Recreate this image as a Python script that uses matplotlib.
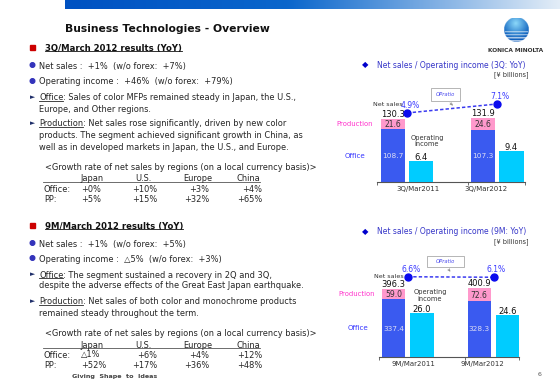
import numpy as np
import matplotlib
matplotlib.use('Agg')
import matplotlib.pyplot as plt
from matplotlib.patches import Rectangle, Ellipse, FancyArrowPatch
from matplotlib.lines import Line2D

# ---------------- data ----------------
periods_3q = ['3Q/Mar2011', '3Q/Mar2012']
office_3q = [108.7, 107.3]
production_3q = [21.6, 24.6]
netsales_3q = [130.3, 131.9]
opinc_3q = [6.4, 9.4]
opratio_3q = [4.9, 7.1]

periods_9m = ['9M/Mar2011', '9M/Mar2012']
office_9m = [337.4, 328.3]
production_9m = [59.0, 72.6]
netsales_9m = [396.3, 400.9]
opinc_9m = [26.0, 24.6]
opratio_9m = [6.6, 6.1]

regions = ['Japan', 'U.S.', 'Europe', 'China']
growth_3q_office = ['+0%', '+10%', '+3%', '+4%']
growth_3q_pp = ['+5%', '+15%', '+32%', '+65%']
growth_9m_office = ['\u25b31%', '+6%', '+4%', '+12%']
growth_9m_pp = ['+52%', '+17%', '+36%', '+48%']

# ---------------- style ----------------
W, H = 560, 388
C_OFFICE = '#3a5af0'
C_PROD = '#ff99cc'
C_OPINC = '#00ccff'
C_TEXT = '#262626'
C_BLUE_T = '#3535c8'

fig = plt.figure(figsize=(W / 100, H / 100), dpi=100)
R = fig.canvas.get_renderer()


def fx(x):
    return x / W


def fy(y):
    return 1 - y / H


def text(x, y, s, size=6, ha='left', va='center_baseline', width=None, **kw):
    t = fig.text(fx(x), fy(y), s, fontsize=size, ha=ha, va=va, **kw)
    if width is not None:
        bb = t.get_window_extent(renderer=R)
        t.set_fontsize(size * width / bb.width)
    return t


def twidth(t):
    return t.get_window_extent(renderer=R).width


def hline(x0, x1, y, color=C_TEXT, lw=0.6):
    fig.add_artist(Line2D([fx(x0), fx(x1)], [fy(y), fy(y)], color=color, lw=lw,
                          transform=fig.transFigure))


def underline_text(t, x, y, size):
    w = twidth(t)
    em = size / 72 * 100
    hline(x, x + w, y + 0.5 * em, color=t.get_color(), lw=0.6)
    return w


# ---------------- header ----------------
hax = fig.add_axes([fx(65), fy(9), (W - 65) / W, 9 / H])
tt = np.linspace(0, 1, 400)
c0 = np.array([0.0, 0.32, 0.76])
c1 = np.array([0.04, 0.40, 0.80])
c2 = np.array([0.89, 0.93, 0.97])
grad = np.where(tt[:, None] < 0.45,
                c0 + (c1 - c0) * (tt[:, None] / 0.45),
                c1 + (c2 - c1) * ((tt[:, None] - 0.45) / 0.55))
hax.imshow(grad[None, :, :], aspect='auto', extent=[0, 1, 0, 1])
hax.axis('off')

text(65, 28, 'Business Technologies - Overview', size=10, width=205,
     weight='bold', color='#111111')

# logo
lax = fig.add_axes([fx(503.5), fy(42.5), 25 / W, 25 / H])
n = 100
yy, xx = np.mgrid[-1:1:n * 1j, -1:1:n * 1j]
rr = np.hypot(xx, yy)
light = np.array([0.55, 0.85, 0.98])
dark = np.array([0.0, 0.33, 0.72])
tg = np.clip(np.hypot(xx + 0.05, yy + 0.5) / 1.35, 0, 1)
col = light * (1 - tg)[..., None] + dark * tg[..., None]
stripes = (yy > 0.12) & (np.sin((yy - 0.12) * 26) > 0.55 - 0.6 * yy) & (np.abs(xx) < 0.95)
col[stripes] = col[stripes] * 0.3 + 0.7
img = np.ones((n, n, 4))
img[..., :3] = col
img[..., 3] = (rr <= 1).astype(float)
lax.imshow(img, extent=[-1, 1, -1, 1])
lax.axis('off')
text(516, 49.5, 'KONICA MINOLTA', size=4, ha='center', width=55,
     weight='bold', color='#333333')

# ---------------- left text ----------------
BODY_REF = 'Office: Sales of color MFPs remained steady in Japan, the U.S.,'
tmp = text(0, 0, BODY_REF, size=6)
BODY = 6 * 259 / twidth(tmp)
tmp.remove()


def red_square(y):
    fig.add_artist(Rectangle((fx(30), fy(y + 2.5)), 5 / W, 5 / H, color='#cc0000',
                             transform=fig.transFigure))


def dot(y):
    fig.add_artist(Ellipse((fx(32.5), fy(y)), 4.6 / W, 4.6 / H, color='#3333bb',
                           transform=fig.transFigure))


def heading(y, s):
    red_square(y)
    t = text(45, y, s, size=7, width=137, weight='bold', color='#111111')
    underline_text(t, 45, y, t.get_fontsize())


def arrow_line(y, word, rest):
    text(32.5, y, '\u25ba', size=BODY * 0.8, ha='center', color='#1f2f6a')
    t = text(39, y, word, size=BODY, color=C_TEXT)
    w = underline_text(t, 39, y, BODY)
    text(39 + w, y, rest, size=BODY, color=C_TEXT)


def table(yh, yo, yp, off_vals, pp_vals):
    centers = [92, 143, 198, 248]
    for c, r in zip(centers, regions):
        text(c, yh, r, size=BODY, ha='center', color=C_TEXT)
    hline(43, 260, yh + 4, color='#555555', lw=0.6)
    text(44, yo, 'Office:', size=BODY, color=C_TEXT)
    text(44, yp, 'PP:', size=BODY, color=C_TEXT)
    rights = [None, 157, 209.5, 262]
    for row_y, vals in ((yo, off_vals), (yp, pp_vals)):
        for j, v in enumerate(vals):
            if j == 0:
                text(81, row_y, v, size=BODY, ha='left', color=C_TEXT)
            else:
                text(rights[j], row_y, v, size=BODY, ha='right', color=C_TEXT)


# section 1
heading(47, '3Q/March 2012 results (YoY)')
dot(65)
text(39, 65, 'Net sales :  +1%  (w/o forex:  +7%)', size=BODY, color=C_TEXT)
dot(81)
text(39, 81, 'Operating income :  +46%  (w/o forex:  +79%)', size=BODY, color=C_TEXT)
arrow_line(97, 'Office', ': Sales of color MFPs remained steady in Japan, the U.S.,')
text(39, 108, 'Europe, and Other regions.', size=BODY, color=C_TEXT)
arrow_line(123, 'Production', ': Net sales rose significantly, driven by new color')
text(39, 135, 'products. The segment achieved significant growth in China, as',
     size=BODY, color=C_TEXT)
text(39, 146, 'well as in developed markets in Japan, the U.S., and Europe.',
     size=BODY, color=C_TEXT)
text(45, 166, '<Growth rate of net sales by regions (on a local currency basis)>',
     size=BODY, color=C_TEXT)
table(178, 188, 199, growth_3q_office, growth_3q_pp)

# section 2
heading(225, '9M/March 2012 results (YoY)')
dot(243)
text(39, 243, 'Net sales :  +1%  (w/o forex:  +5%)', size=BODY, color=C_TEXT)
dot(258)
text(39, 258, 'Operating income :  \u25b35%  (w/o forex:  +3%)', size=BODY, color=C_TEXT)
arrow_line(274, 'Office', ': The segment sustained a recovery in 2Q and 3Q,')
text(39, 285, 'despite the adverse effects of the Great East Japan earthquake.',
     size=BODY, color=C_TEXT)
arrow_line(301, 'Production', ': Net sales of both color and monochrome products')
text(39, 312, 'remained steady throughout the term.', size=BODY, color=C_TEXT)
text(45, 332, '<Growth rate of net sales by regions (on a local currency basis)>',
     size=BODY, color=C_TEXT)
table(344, 354, 364, growth_9m_office, growth_9m_pp)

text(72, 376, 'Giving  Shape  to  Ideas', size=5, width=87, weight='bold', color='#444444')
text(540, 374, '6', size=4.5, ha='center', color='#555555')


# ---------------- charts ----------------
def chart(title, title_y, cats, office, prod, total, opinc, ratio,
          x0, x1, ytop, ybase, g0, sp, off, bw, k1, k2, ra, rb,
          cat_px, tick_px, prod_lbl, off_lbl, opi_lbl, box, arrow):
    # title
    text(365, title_y, '\u25c6', size=6, ha='center', color='#0000cc')
    text(377, title_y, title, size=6, width=151, color=C_BLUE_T)
    text(528, title_y + 9.5, '[\u00a5 billions]', size=4, ha='right', width=34,
         color='#333333')

    hpx = ybase - ytop
    ax = fig.add_axes([fx(x0), fy(ybase), (x1 - x0) / W, hpx / H])
    ax.patch.set_visible(False)
    ax.set_xlim((x0 - g0) / sp, (x1 - g0) / sp)
    ax.set_ylim(0, hpx / k1)
    idx = np.arange(len(cats))
    o = off / sp
    w = bw / sp
    ax.bar(idx - o, office, w, color=C_OFFICE, zorder=2)
    ax.bar(idx - o, prod, w, bottom=office, color=C_PROD, zorder=2)
    for i in idx:
        ax.text(i - o, office[i] / 2, f'{office[i]:.1f}', ha='center',
                va='center_baseline', fontsize=5.3, color='#dcdcf4', zorder=3)
        ax.text(i - o, office[i] + prod[i] / 2, f'{prod[i]:.1f}', ha='center',
                va='center_baseline', fontsize=5.5, color='#333333', zorder=3)
        ax.annotate(f'{total[i]:.1f}', (i - o, total[i]), xytext=(0, 5),
                    textcoords='offset pixels', ha='center', va='center_baseline',
                    fontsize=6, color='#111111', zorder=3)
    for s in ('top', 'left', 'right'):
        ax.spines[s].set_visible(False)
    ax.spines['bottom'].set_color('#555555')
    ax.spines['bottom'].set_linewidth(0.8)
    ax.set_yticks([])
    ax.set_xticks([(p - g0) / sp for p in cat_px])
    ax.set_xticklabels(cats)
    ax.tick_params(axis='x', which='major', length=0, pad=3, labelsize=5,
                   labelcolor='#333333')
    ax.set_xticks([(p - g0) / sp for p in tick_px], minor=True)
    ax.tick_params(axis='x', which='minor', length=2.5, width=0.6, color='#555555',
                   direction='out')

    ax2 = ax.twinx()
    ax2.set_ylim(0, hpx / k2)
    ax2.bar(idx + o, opinc, w, color=C_OPINC, zorder=2)
    for i in idx:
        ax2.annotate(f'{opinc[i]:.1f}', (i + o, opinc[i]), xytext=(0, 4.5),
                     textcoords='offset pixels', ha='center', va='center_baseline',
                     fontsize=6, color='#111111')
    ax2.axis('off')

    ax3 = ax.twinx()
    ax3.set_ylim(-ra / rb, (hpx - ra) / rb)
    ax3.plot(idx, ratio, ls=(0, (2.2, 1.4)), color='#3a3af0', lw=1.1, zorder=4)
    ax3.plot(idx, ratio, ls='none', marker='o', ms=5.0, color='#0a0aee', zorder=5)
    for i in idx:
        ax3.annotate(f'{ratio[i]:.1f}%', (i, ratio[i]), xytext=(3, 8.5),
                     textcoords='offset pixels', ha='center', va='center_baseline',
                     fontsize=5.5, color='#3a3aff')
    ax3.axis('off')

    # side labels
    text(prod_lbl[0], prod_lbl[1], 'Production', size=5, width=37, color='#ff33cc')
    text(off_lbl[0], off_lbl[1], 'Office', size=5, width=21, color='#3333ff')
    text(opi_lbl[0], opi_lbl[1], 'Operating\nincome', size=4.8, ha='center',
         va='center', color='#333333', linespacing=1.05)
    text(opi_lbl[2], opi_lbl[3], 'Net sales', size=4.6, ha='left', color='#333333')

    # OPratio box
    bx0, by0, bx1, by1 = box
    fig.add_artist(Rectangle((fx(bx0), fy(by1)), (bx1 - bx0) / W, (by1 - by0) / H,
                             facecolor='white', edgecolor='#999999', lw=0.5,
                             transform=fig.transFigure, zorder=6))
    fig.text(fx((bx0 + bx1) / 2), fy((by0 + by1) / 2), 'OPratio', fontsize=3.8,
             style='italic', color='#4a4aee', ha='center', va='center', zorder=7)
    fig.add_artist(FancyArrowPatch((fx(arrow[0]), fy(arrow[1])),
                                   (fx(arrow[2]), fy(arrow[3])),
                                   arrowstyle='->', mutation_scale=4, lw=0.5,
                                   color='#888888', transform=fig.transFigure,
                                   zorder=6))


chart('Net sales / Operating income (3Q: YoY)', 64,
      periods_3q, office_3q, production_3q, netsales_3q, opinc_3q, opratio_3q,
      x0=377, x1=525, ytop=80, ybase=181.7, g0=407.25, sp=90, off=14.25, bw=24,
      k1=0.483, k2=3.25, ra=48.7, rb=4.09,
      cat_px=[418, 486], tick_px=[377, 468, 525],
      prod_lbl=(336, 124), off_lbl=(345, 155), opi_lbl=(427, 141, 373, 104),
      box=(431, 88, 460, 101), arrow=(448, 101, 455, 107.5))

chart('Net sales / Operating income (9M: YoY)', 231,
      periods_9m, office_9m, production_9m, netsales_9m, opinc_9m, opratio_9m,
      x0=379, x1=519, ytop=250, ybase=357.3, g0=407.75, sp=85.75, off=14.25, bw=23.5,
      k1=0.173, k2=1.71, ra=80.3 - 6.35 * 1.0, rb=1.0,
      cat_px=[413, 482], tick_px=[379, 465, 519],
      prod_lbl=(338, 294), off_lbl=(348, 328), opi_lbl=(430, 295.5, 374, 276),
      box=(427, 256, 464, 267), arrow=(447, 267, 452, 274))

fig.savefig('out.png', dpi=100)
